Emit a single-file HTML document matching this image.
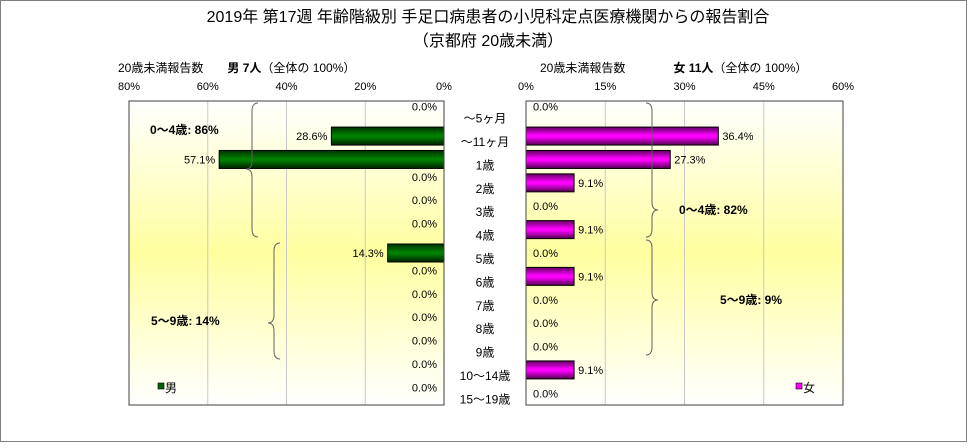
<!DOCTYPE html>
<html><head><meta charset="utf-8"><style>
body{margin:0;width:968px;height:443px;overflow:hidden;background:#fff}
text{font-family:"Liberation Sans","Noto Sans CJK JP",sans-serif}
</style></head><body>
<svg id="c" width="968" height="443">
<defs>
<linearGradient id="bg" x1="0" y1="0" x2="0" y2="1">
<stop offset="0" stop-color="#ffffff"/><stop offset="0.5" stop-color="#ffffa0"/><stop offset="1" stop-color="#ffffff"/></linearGradient>
<linearGradient id="gm" x1="0" y1="0" x2="0" y2="1">
<stop offset="0" stop-color="#003000"/><stop offset="0.45" stop-color="#008000"/><stop offset="0.55" stop-color="#008000"/><stop offset="1" stop-color="#002000"/></linearGradient>
<linearGradient id="gf" x1="0" y1="0" x2="0" y2="1">
<stop offset="0" stop-color="#600060"/><stop offset="0.45" stop-color="#ff00ff"/><stop offset="0.55" stop-color="#ff00ff"/><stop offset="1" stop-color="#500050"/></linearGradient>
</defs>
<rect x="0.5" y="0.5" width="966" height="441" fill="none" stroke="#808080"/>
<text x="488" y="22" font-size="16" text-anchor="middle">2019年 第17週 年齢階級別 手足口病患者の小児科定点医療機関からの報告割合</text>
<text x="488" y="46" font-size="16" text-anchor="middle">（京都府 20歳未満）</text>
<text x="118" y="72" font-size="12">20歳未満報告数　　<tspan font-weight="bold">男  7人</tspan>（全体の  100%）</text>
<text x="540" y="72" font-size="12">20歳未満報告数　　　　<tspan font-weight="bold">女  11人</tspan>（全体の  100%）</text>
<rect x="129" y="101" width="315" height="304" fill="url(#bg)"/>
<rect x="526" y="101" width="317" height="304" fill="url(#bg)"/>
<g id="grid"></g><g id="bars"></g>
<rect x="129" y="101" width="315" height="304" fill="none" stroke="#404040"/>
<rect x="526" y="101" width="317" height="304" fill="none" stroke="#404040"/>
<path d="M258,103 q-6,0 -6,8 v50 q0,8 -6,8 q6,0 6,8 v52 q0,8 6,8" fill="none" stroke="#606060"/>
<path d="M280,243 q-6,0 -6,8 v64 q0,8 -6,8 q6,0 6,8 v20 q0,8 6,8" fill="none" stroke="#606060"/>
<path d="M646,103 q6,0 6,8 v91 q0,8 6,8 q-6,0 -6,8 v11 q0,8 -6,8" fill="none" stroke="#606060"/>
<path d="M646,240 q6,0 6,8 v44 q0,8 6,8 q-6,0 -6,8 v39 q0,8 -6,8" fill="none" stroke="#606060"/>
<text x="150" y="134" font-size="12" font-weight="bold">0〜4歳: 86%</text>
<text x="151" y="325" font-size="12" font-weight="bold">5〜9歳: 14%</text>
<text x="679" y="214" font-size="12" font-weight="bold">0〜4歳: 82%</text>
<text x="720" y="304" font-size="12" font-weight="bold">5〜9歳: 9%</text>
<rect x="158" y="383" width="6" height="6" fill="#006400" stroke="#000" stroke-width="0.6"/>
<text x="165" y="392" font-size="12">男</text>
<rect x="796" y="383" width="6" height="6" fill="#ff00ff" stroke="#000" stroke-width="0.6"/>
<text x="803" y="392" font-size="12">女</text>
</svg>
<script>
const categories=["〜5ヶ月","〜11ヶ月","1歳","2歳","3歳","4歳","5歳","6歳","7歳","8歳","9歳","10〜14歳","15〜19歳"];
const maleValues=[0,28.6,57.1,0,0,0,14.3,0,0,0,0,0,0];
const femaleValues=[0,36.4,27.3,9.1,0,9.1,0,9.1,0,0,0,9.1,0];
const maleTicks=[80,60,40,20,0];
const femaleTicks=[0,15,30,45,60];
const NS="http://www.w3.org/2000/svg";
const svg=document.getElementById('c'),grid=document.getElementById('grid'),bars=document.getElementById('bars');
const plotTop=101,plotBottom=405,rowH=(plotBottom-plotTop)/categories.length;
const mx=v=>444-v*(315/80), fx=v=>526+v*(317/60);
const rowC=i=>plotTop+rowH*(i+0.5);
function mk(tag,attrs,parent){const e=document.createElementNS(NS,tag);for(const k in attrs)e.setAttribute(k,attrs[k]);(parent||svg).appendChild(e);return e;}
maleTicks.forEach(t=>{
  const x=mx(t);
  if(t>0&&t<80){const l=mk('line',{x1:x,x2:x,y1:plotTop,y2:plotBottom,stroke:'#c8c8c8'},grid);
  
  }
  const tx=mk('text',{x:x,y:90,'font-size':11,'text-anchor':'middle'});
  
  
  tx.textContent=t+'%';
});
femaleTicks.forEach(t=>{
  const x=fx(t);
  if(t>0&&t<60){const l=mk('line',{x1:x,x2:x,y1:plotTop,y2:plotBottom,stroke:'#c8c8c8'},grid);
  
  }
  const tx=mk('text',{x:x,y:90,'font-size':11,'text-anchor':'middle'});
  
  
  tx.textContent=t+'%';
});
categories.forEach((c,i)=>{
  const y=rowC(i);
  const lab=mk('text',{x:485,y:y+10,'font-size':12,'text-anchor':'middle'});
  
  
  lab.textContent=c;
  const mv=maleValues[i];
  if(mv>0){const b=mk('rect',{x:mx(mv),y:y-9,width:444-mx(mv),height:18,fill:'url(#gm)',stroke:'#000','stroke-width':1},bars);
  
  }
  const mt=mk('text',{x:mv>0?mx(mv)-4:437,y:y-2+(mv>0?6:0),'font-size':11,'text-anchor':'end'});
  
  
  mt.textContent=mv.toFixed(1)+'%';
  const fv=femaleValues[i];
  if(fv>0){const b=mk('rect',{x:526,y:y-9,width:fx(fv)-526,height:18,fill:'url(#gf)',stroke:'#000','stroke-width':1},bars);
  
  }
  const ft=mk('text',{x:fv>0?fx(fv)+4:533,y:fv>0?y+4:y+(i==0?-2:4),'font-size':11,'text-anchor':'start'});
  
  
  ft.textContent=fv.toFixed(1)+'%';
});
</script>
</body></html>
